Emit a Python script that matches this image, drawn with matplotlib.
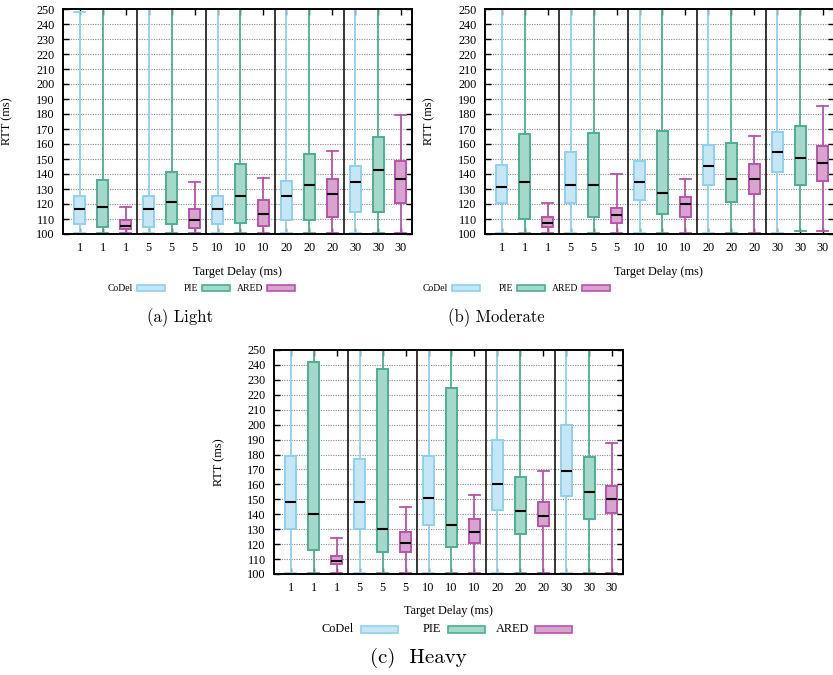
import matplotlib
matplotlib.use("Agg")
import matplotlib.pyplot as plt
from matplotlib.patches import Rectangle

# ---------------- data ----------------
delays = ["1", "5", "10", "20", "30"]
algorithms = ["CoDel", "PIE", "ARED"]
tick_labels = [d for d in delays for _ in algorithms]

# order: CoDel,PIE,ARED for 1,5,10,20,30 ms
light_q1 = [106.7, 105.0, 103.3, 105.0, 106.7, 104.2, 106.7, 107.6, 105.6, 109.5, 109.5, 111.1, 114.7, 114.7, 121.0]
light_med = [116.7, 118.0, 105.3, 116.7, 121.5, 109.5, 116.7, 125.5, 113.5, 125.5, 132.4, 126.6, 134.6, 142.6, 136.6]
light_q3 = [125.5, 136.2, 109.5, 125.5, 141.5, 116.7, 125.5, 146.6, 122.4, 135.5, 153.5, 136.4, 145.5, 164.6, 148.4]
light_lo = [100.5] * 15
light_hi = [248.0, 260.0, 118.0, 260.0, 260.0, 134.4, 260.0, 260.0, 137.3, 260.0, 260.0, 155.5, 260.0, 260.0, 179.4]

mod_q1 = [120.6, 110.2, 104.4, 120.6, 111.6, 107.6, 122.4, 113.5, 111.6, 132.6, 121.5, 126.6, 141.5, 132.6, 135.5]
mod_med = [131.3, 134.4, 107.6, 132.6, 132.6, 112.7, 134.6, 127.5, 119.8, 145.5, 136.6, 136.6, 154.6, 150.6, 147.5]
mod_q3 = [145.7, 166.6, 111.6, 154.6, 167.5, 117.5, 148.6, 168.6, 124.4, 159.5, 160.4, 146.6, 168.3, 172.3, 158.6]
mod_lo = [100.5] * 13 + [101.8, 101.8]
mod_hi = [260.0, 260.0, 120.6, 260.0, 260.0, 139.7, 260.0, 260.0, 136.6, 260.0, 260.0, 165.5, 260.0, 260.0, 185.4]

heavy_q1 = [130.1, 116.1, 106.7, 130.1, 114.9, 114.9, 133.0, 118.1, 121.0, 143.0, 127.0, 132.1, 151.9, 137.0, 141.0]
heavy_med = [148.1, 140.1, 108.9, 148.1, 130.1, 121.0, 151.0, 133.0, 128.1, 160.0, 142.1, 139.0, 169.1, 155.1, 150.2]
heavy_q3 = [179.1, 242.2, 112.0, 177.1, 237.3, 127.9, 179.1, 224.4, 137.0, 190.0, 165.1, 147.9, 200.1, 178.2, 159.1]
heavy_lo = [101.0, 101.0, 100.4, 101.0, 101.0, 100.4, 101.0, 101.0, 101.0, 101.0, 101.0, 101.0, 101.0, 101.0, 101.0]
heavy_hi = [260.0, 260.0, 124.1, 260.0, 260.0, 145.0, 260.0, 260.0, 153.1, 260.0, 260.0, 169.1, 260.0, 260.0, 188.0]

# ---------------- style ----------------
edge_colors = {"CoDel": "#8fd1ee", "PIE": "#4dae93", "ARED": "#b853ad"}
fill_colors = {"CoDel": "#c5e6f5", "PIE": "#a3d8ca", "ARED": "#d9a3d0"}
SERIF = "Liberation Serif"

W, H = 833, 675
fig = plt.figure(figsize=(W / 100, H / 100), dpi=100)


def fx(px):
    return px / W


def fy(py):
    return 1 - py / H


def make_axes(left, right, top, bottom):
    return fig.add_axes([fx(left), fy(bottom), (right - left) / W, (bottom - top) / H])


def draw_panel(ax, q1, med, q3, lo, hi):
    n = len(med)
    positions = list(range(1, n + 1))
    stats = []
    for i in range(n):
        stats.append(dict(q1=q1[i], med=med[i], q3=q3[i], whislo=lo[i], whishi=hi[i], fliers=[]))
    res = ax.bxp(stats, positions=positions, widths=0.48, capwidths=0.48,
                 patch_artist=True, showfliers=False, manage_ticks=False,
                 medianprops=dict(color="black", lw=1.5, solid_capstyle="butt"))
    for i in range(n):
        alg = algorithms[i % 3]
        ec, fc = edge_colors[alg], fill_colors[alg]
        b = res["boxes"][i]
        b.set_facecolor(fc)
        b.set_edgecolor(ec)
        b.set_linewidth(1.4)
        b.set_zorder(3)
        for w in res["whiskers"][2 * i:2 * i + 2]:
            w.set_color(ec)
            w.set_linewidth(1.3)
            w.set_zorder(2.5)
        for c in res["caps"][2 * i:2 * i + 2]:
            c.set_color(ec)
            c.set_linewidth(1.3)
            c.set_zorder(2.5)
        res["medians"][i].set_zorder(4)
    ax.set_xlim(0.26, 15.48)
    ax.set_ylim(100, 250)
    ax.set_yticks(range(100, 251, 10))
    ax.set_xticks(positions)
    ax.set_xticklabels(tick_labels)
    for t in ax.get_xticklabels() + ax.get_yticklabels():
        t.set_fontfamily(SERIF)
        t.set_fontsize(8.8)
    ax.tick_params(direction="in", top=True, right=True, length=4, width=1.0)
    ax.tick_params(axis="x", pad=6)
    ax.tick_params(axis="y", pad=6)
    for y in range(110, 250, 10):
        ax.axhline(y, color="#8a8a8a", lw=0.8, ls=(0, (1, 1.2)), zorder=1)
    for xs in (3.5, 6.5, 9.5, 12.5):
        ax.axvline(xs, color="black", lw=1.1, zorder=2)
    for s in ax.spines.values():
        s.set_linewidth(1.4)
        s.set_zorder(5)
    ax.set_xlabel("Target Delay (ms)", fontfamily=SERIF, fontsize=8.8)
    ax.set_ylabel("RTT (ms)", fontfamily=SERIF, fontsize=8.8)


def draw_legend(y, entries, fs, sw_h):
    # entries: (label, text_right_px, swatch_left_px, swatch_right_px)
    for (label, tr, sl, sr) in entries:
        fig.text(fx(tr), fy(y), label, ha="right", va="center", fontfamily=SERIF, fontsize=fs)
        fig.add_artist(Rectangle((fx(sl), fy(y + sw_h / 2)), (sr - sl) / W, sw_h / H,
                                 transform=fig.transFigure, facecolor=fill_colors[label],
                                 edgecolor=edge_colors[label], lw=1.2))


# Panel (a)
ax_a = make_axes(63, 412, 9, 234)
draw_panel(ax_a, light_q1, light_med, light_q3, light_lo, light_hi)
ax_a.xaxis.set_label_coords(0.5, -0.142)
ax_a.yaxis.set_label_coords(-0.143, 0.5)

# Panel (b)
ax_b = make_axes(485, 834, 9, 234)
draw_panel(ax_b, mod_q1, mod_med, mod_q3, mod_lo, mod_hi)
ax_b.xaxis.set_label_coords(0.496, -0.142)
ax_b.yaxis.set_label_coords(-0.143, 0.5)

# Panel (c)
ax_c = make_axes(274, 623, 350, 574)
draw_panel(ax_c, heavy_q1, heavy_med, heavy_q3, heavy_lo, heavy_hi)
ax_c.xaxis.set_label_coords(0.499, -0.138)
ax_c.yaxis.set_label_coords(-0.14, 0.5)

# Legends
draw_legend(288, [("CoDel", 133, 137, 165), ("PIE", 198, 202, 230), ("ARED", 263, 267, 295)], 6.9, 6)
draw_legend(288, [("CoDel", 448, 452, 480), ("PIE", 513, 517, 545), ("ARED", 578, 582, 610)], 6.9, 6)
draw_legend(629, [("CoDel", 354, 361, 398), ("PIE", 441, 448, 485), ("ARED", 529, 535, 572)], 8.8, 7)

# Captions
fig.text(fx(180), fy(318), "(a) Light", ha="center", va="center", fontfamily="cmr10", fontsize=12)
fig.text(fx(496), fy(318), "(b) Moderate", ha="center", va="center", fontfamily="cmr10", fontsize=12)
fig.text(fx(418), fy(658), "(c)  Heavy", ha="center", va="center", fontfamily="cmr10", fontsize=15)

fig.savefig("out.png", dpi=100)
